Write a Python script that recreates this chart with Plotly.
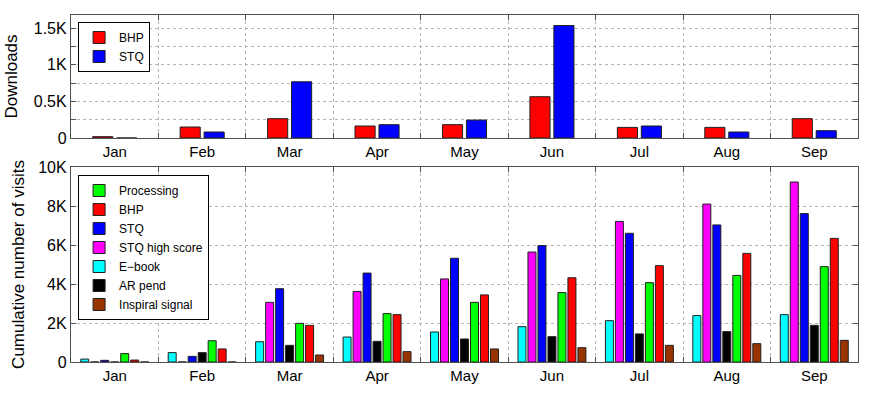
import plotly.graph_objects as go
from plotly.subplots import make_subplots

months = ['Jan', 'Feb', 'Mar', 'Apr', 'May', 'Jun', 'Jul', 'Aug', 'Sep']

# Top panel: downloads
dl_bhp = [18, 150, 264, 164, 182, 564, 145, 145, 264]
dl_stq = [0, 82, 768, 182, 245, 1536, 164, 82, 100]

# Bottom panel: cumulative visits (bar order within each month)
v_ebook = [150, 480, 1040, 1280, 1540, 1810, 2120, 2380, 2430]
v_stq_high = [0, 0, 3060, 3620, 4260, 5640, 7210, 8100, 9230]
v_stq = [85, 290, 3760, 4560, 5320, 5970, 6600, 7030, 7610]
v_ar_pend = [0, 480, 855, 1060, 1180, 1300, 1440, 1560, 1880]
v_processing = [430, 1090, 1980, 2480, 3060, 3560, 4070, 4440, 4890]
v_bhp = [100, 670, 1880, 2430, 3440, 4320, 4940, 5570, 6340]
v_inspiral = [0, 0, 360, 530, 670, 735, 855, 940, 1110]

top_ticks = [0, 250, 500, 750, 1000, 1250, 1500]
top_ticktext = ['0', '', '0.5K', '', '1K', '', '1.5K']
bot_ticks = [0, 2000, 4000, 6000, 8000, 10000]
bot_ticktext = ['0', '2K', '4K', '6K', '8K', '10K']

FONT = 'Liberation Sans, Arial, sans-serif'
EDGE = dict(color='#202020', width=1)

fig = make_subplots(rows=2, cols=1, shared_xaxes=False, vertical_spacing=0.0)

fig.add_trace(go.Bar(x=months, y=dl_bhp, name='BHP', marker=dict(color='#FF0000', line=EDGE),
                     width=0.23, offset=-0.252, legend='legend'), row=1, col=1)
fig.add_trace(go.Bar(x=months, y=dl_stq, name='STQ', marker=dict(color='#0000FF', line=EDGE),
                     width=0.23, offset=0.022, legend='legend'), row=1, col=1)

bottom = [
    ('E\u2212book', v_ebook, '#00FFFF', 5),
    ('STQ high score', v_stq_high, '#FF00FF', 4),
    ('STQ', v_stq, '#0000FF', 3),
    ('AR pend', v_ar_pend, '#000000', 6),
    ('Processing', v_processing, '#00FF00', 1),
    ('BHP', v_bhp, '#FF0000', 2),
    ('Inspiral signal', v_inspiral, '#993300', 7),
]
for name, vals, col, rank in bottom:
    fig.add_trace(go.Bar(x=months, y=vals, name=name, marker=dict(color=col, line=EDGE),
                         legend='legend2', legendrank=rank), row=2, col=1)

L, R, T, B = 71, 14, 15, 35
H = 397 - T - B
top_bottom_px = 138
bot_top_px = 167
fig.update_layout(
    template='none',
    width=872, height=397,
    margin=dict(l=L, r=R, t=T, b=B, autoexpand=False),
    paper_bgcolor='white', plot_bgcolor='white',
    font=dict(family=FONT, size=15, color='black'),
    barmode='group', bargap=0.2, bargroupgap=0.2,
    showlegend=True,
    legend=dict(x=0.009, y=1 - (22 - T) / H, xanchor='left', yanchor='top',
                bordercolor='black', borderwidth=1, bgcolor='white',
                font=dict(size=12, family=FONT), tracegroupgap=0,
                traceorder='normal'),
    legend2=dict(x=0.009, y=1 - (175 - T) / H, xanchor='left', yanchor='top',
                 bordercolor='black', borderwidth=1, bgcolor='white',
                 font=dict(size=12, family=FONT), tracegroupgap=0,
                 traceorder='normal'),
)

axis_common = dict(showline=True, linecolor='#505050', linewidth=1.2, mirror='allticks',
                   ticks='inside', ticklen=5, tickcolor='#505050', automargin=False,
                   showgrid=True, gridcolor='#b4b4b4', griddash='dot', gridwidth=1,
                   zeroline=False)

fig.update_xaxes(**axis_common, type='category', tickson='boundaries',
                 tickfont=dict(size=15), range=[-0.5, 8.5])
fig.update_yaxes(**axis_common, tickfont=dict(size=16))

fig.update_yaxes(row=1, col=1, range=[0, 1680], tickvals=top_ticks, ticktext=top_ticktext,
                 domain=[1 - (top_bottom_px - T) / H, 1],
                 title=dict(text='Downloads', font=dict(size=17), standoff=11))
fig.update_yaxes(row=2, col=1, range=[0, 10000], tickvals=bot_ticks, ticktext=bot_ticktext,
                 domain=[0, 1 - (bot_top_px - T) / H],
                 title=dict(text='Cumulative number of visits', font=dict(size=17), standoff=9))

fig.write_html('out.html', config={'displayModeBar': False},
               post_script="document.body.style.margin='0';document.body.style.overflow='hidden';")
